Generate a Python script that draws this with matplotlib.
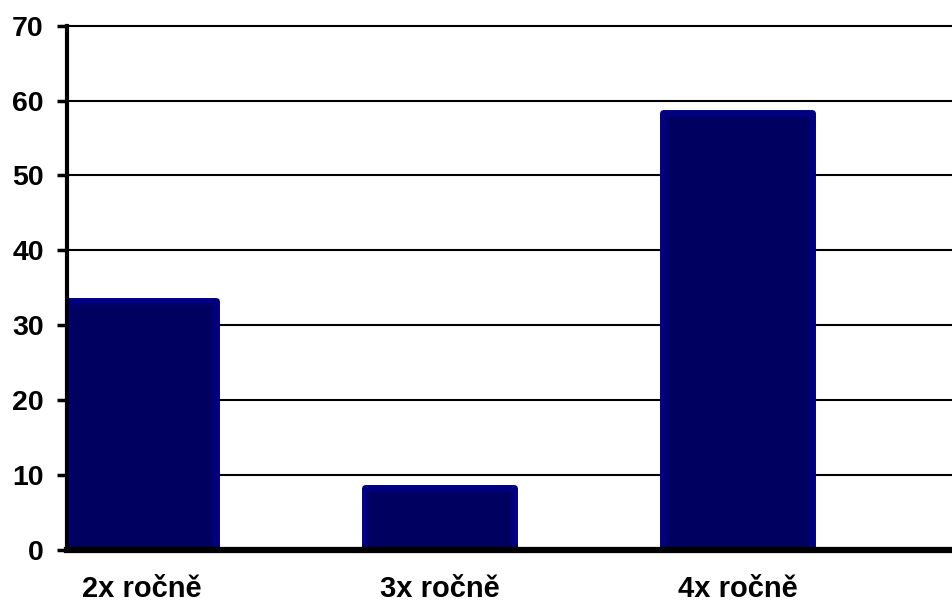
import matplotlib
matplotlib.use('Agg')
import matplotlib.pyplot as plt
import numpy as np

categories = ['2x ročně', '3x ročně', '4x ročně']
values = [33.3, 8.3, 58.3]
yticks = [0, 10, 20, 30, 40, 50, 60, 70]

plt.rcParams['font.family'] = ['Liberation Sans', 'DejaVu Sans']
plt.rcParams['font.weight'] = 'bold'

fig = plt.figure(figsize=(9.52, 6.05), dpi=100)
ax = fig.add_axes([66.7 / 952, 55.1 / 605, 1 - 66.7 / 952, (579.3 - 55.1) / 605])

x = np.arange(len(categories))
ax.bar(x, values, width=0.5, color='#000060', edgecolor='#000080',
       linewidth=5.0, joinstyle='round', zorder=3)

ax.set_ylim(0, 70)
ax.set_xlim(-0.252, 2.719)
ax.set_yticks(yticks)
ax.set_xticks(x)
ax.set_xticklabels(categories)
ax.yaxis.grid(True, color='black', linewidth=1.5, zorder=0)
ax.set_axisbelow(True)
for gl in ax.get_ygridlines():
    gl.set_clip_on(False)

for s in ['top', 'right']:
    ax.spines[s].set_visible(False)
ax.spines['left'].set_linewidth(3)
ax.spines['bottom'].set_linewidth(4.5)
ax.spines['left'].set_zorder(4)
ax.spines['bottom'].set_zorder(4)

ax.tick_params(axis='y', length=7, width=2.5, pad=9.5, labelsize=20.5)
ax.tick_params(axis='x', length=0, pad=18, labelsize=21)
for lab in ax.get_xticklabels() + ax.get_yticklabels():
    lab.set_fontweight('bold')

fig.savefig('out.png', dpi=100)
